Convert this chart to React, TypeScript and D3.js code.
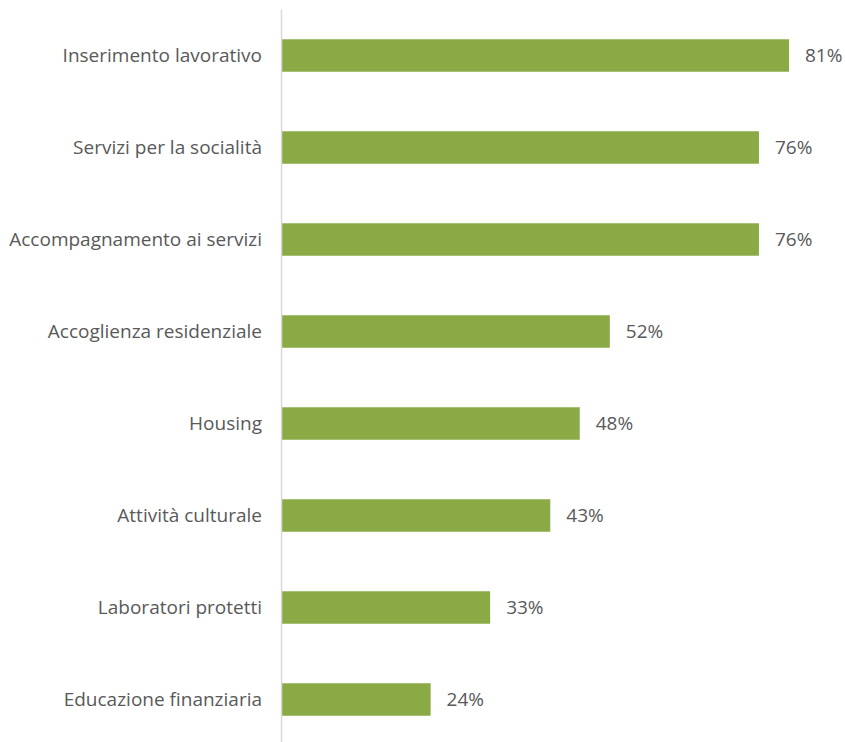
import React from "react";
import * as d3 from "d3";

const categories = [
  "Inserimento lavorativo",
  "Servizi per la socialità",
  "Accompagnamento ai servizi",
  "Accoglienza residenziale",
  "Housing",
  "Attività culturale",
  "Laboratori protetti",
  "Educazione finanziaria",
];
const values = [0.81, 0.762, 0.762, 0.524, 0.476, 0.429, 0.333, 0.238];

const W = 845;
const H = 742;

export default function App() {
  const axisX = 281.5;
  const x = d3.scaleLinear().domain([0, 0.81]).range([axisX, 789]);
  const y = d3
    .scaleBand<string>()
    .domain(categories)
    .range([9.5, 9.5 + 92 * categories.length])
    .paddingInner(0.647)
    .paddingOuter(0.3235);
  const fmt = d3.format(".0%");
  const font = "'Open Sans', sans-serif";
  return (
    <svg
      width={W}
      height={H}
      style={{ position: "absolute", left: 0, top: 0, background: "#fff" }}
    >
      {categories.map((c, i) => {
        const by = y(c)!;
        const bh = y.bandwidth();
        const cy = by + bh / 2;
        return (
          <g key={c}>
            <rect
              x={axisX}
              y={by}
              width={x(values[i]) - axisX}
              height={bh}
              fill="#8AAA45"
            />
            <text
              x={262}
              y={cy}
              dy="0.35em"
              textAnchor="end"
              fontFamily={font}
              fontSize={19}
              fill="#595959"
            >
              {c}
            </text>
            <text
              x={x(values[i]) + 16}
              y={cy}
              dy="0.35em"
              fontFamily={font}
              fontSize={19}
              fill="#595959"
            >
              {fmt(values[i])}
            </text>
          </g>
        );
      })}
      <line
        x1={axisX}
        x2={axisX}
        y1={9.5}
        y2={9.5 + 92 * categories.length}
        stroke="#D9D9D9"
        strokeWidth={1.5}
      />
    </svg>
  );
}
